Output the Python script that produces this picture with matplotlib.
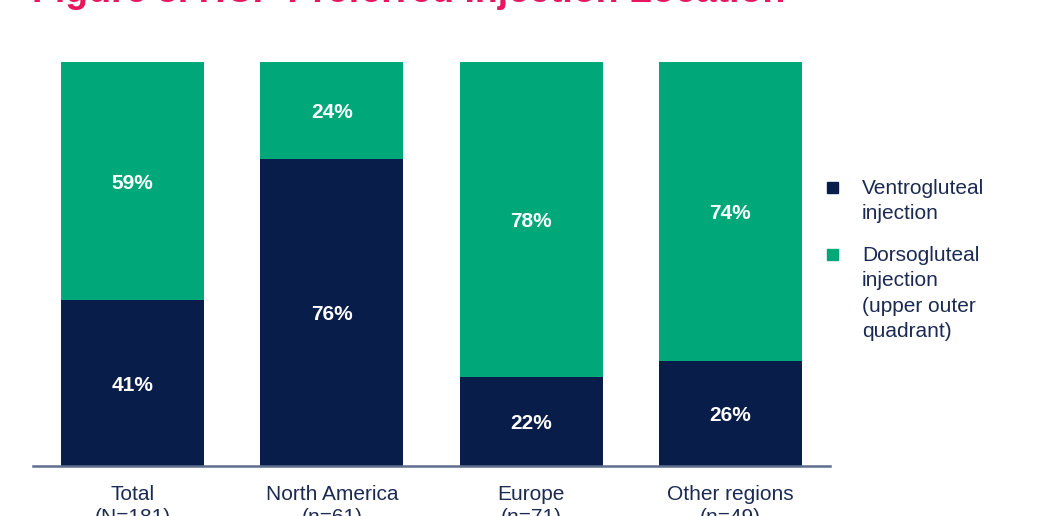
import matplotlib.pyplot as plt
from matplotlib.patches import Rectangle

plt.rcParams["font.family"] = ["Liberation Sans", "DejaVu Sans"]

categories = ["Total", "North America", "Europe", "Other regions"]
sample_sizes = ["(N=181)", "(n=61)", "(n=71)", "(n=49)"]
ventrogluteal = [41, 76, 22, 26]
dorsogluteal = [59, 24, 78, 74]
series_names = ["Ventrogluteal\ninjection", "Dorsogluteal\ninjection\n(upper outer\nquadrant)"]
title = "Figure 3. HCP Preferred Injection Location"

NAVY = "#081d4a"
GREEN = "#00a779"
TEXT = "#1b2a52"

W, H = 1042, 516
fig = plt.figure(figsize=(W / 100, H / 100), dpi=100)
ax = fig.add_axes([33 / W, (H - 466) / H, 797 / W, 404 / H])

x = range(len(categories))
ax.bar(x, ventrogluteal, width=0.717, color=NAVY)
ax.bar(x, dorsogluteal, width=0.717, bottom=ventrogluteal, color=GREEN)

for i, (v, d) in enumerate(zip(ventrogluteal, dorsogluteal)):
    ax.text(i, v / 2, f"{v}%", ha="center", va="center_baseline", color="white",
            fontsize=15, fontweight="bold")
    ax.text(i, v + d / 2, f"{d}%", ha="center", va="center_baseline", color="white",
            fontsize=15, fontweight="bold")

ax.set_xlim(-0.5, 3.5)
ax.set_ylim(0, 100)
for side in ["top", "right", "left"]:
    ax.spines[side].set_visible(False)
ax.spines["bottom"].set_color("#5f6e8f")
ax.spines["bottom"].set_linewidth(1.8)
ax.set_yticks([])
ax.set_xticks(list(x))
ax.set_xticklabels([f"{c}\n{n}" for c, n in zip(categories, sample_sizes)],
                   fontsize=15, color=TEXT, linespacing=1.25)
ax.tick_params(axis="x", length=0, pad=14)

# legend drawn by hand so markers sit on the first line of each label
for color, label, y_top in zip([NAVY, GREEN], series_names, [179, 246]):
    fig.patches.append(Rectangle((827 / W, 1 - (y_top + 14) / H), 11 / W, 11 / H,
                                 transform=fig.transFigure, color=color))
    fig.text(862 / W, 1 - y_top / H, label, ha="left", va="top", fontsize=15,
             color=TEXT, linespacing=1.42)

fig.text(32 / W, 1 - 2 / H, title, ha="left", va="baseline", fontsize=27,
         fontweight="bold", color="#e8175d")

fig.savefig("out.png", dpi=100)
